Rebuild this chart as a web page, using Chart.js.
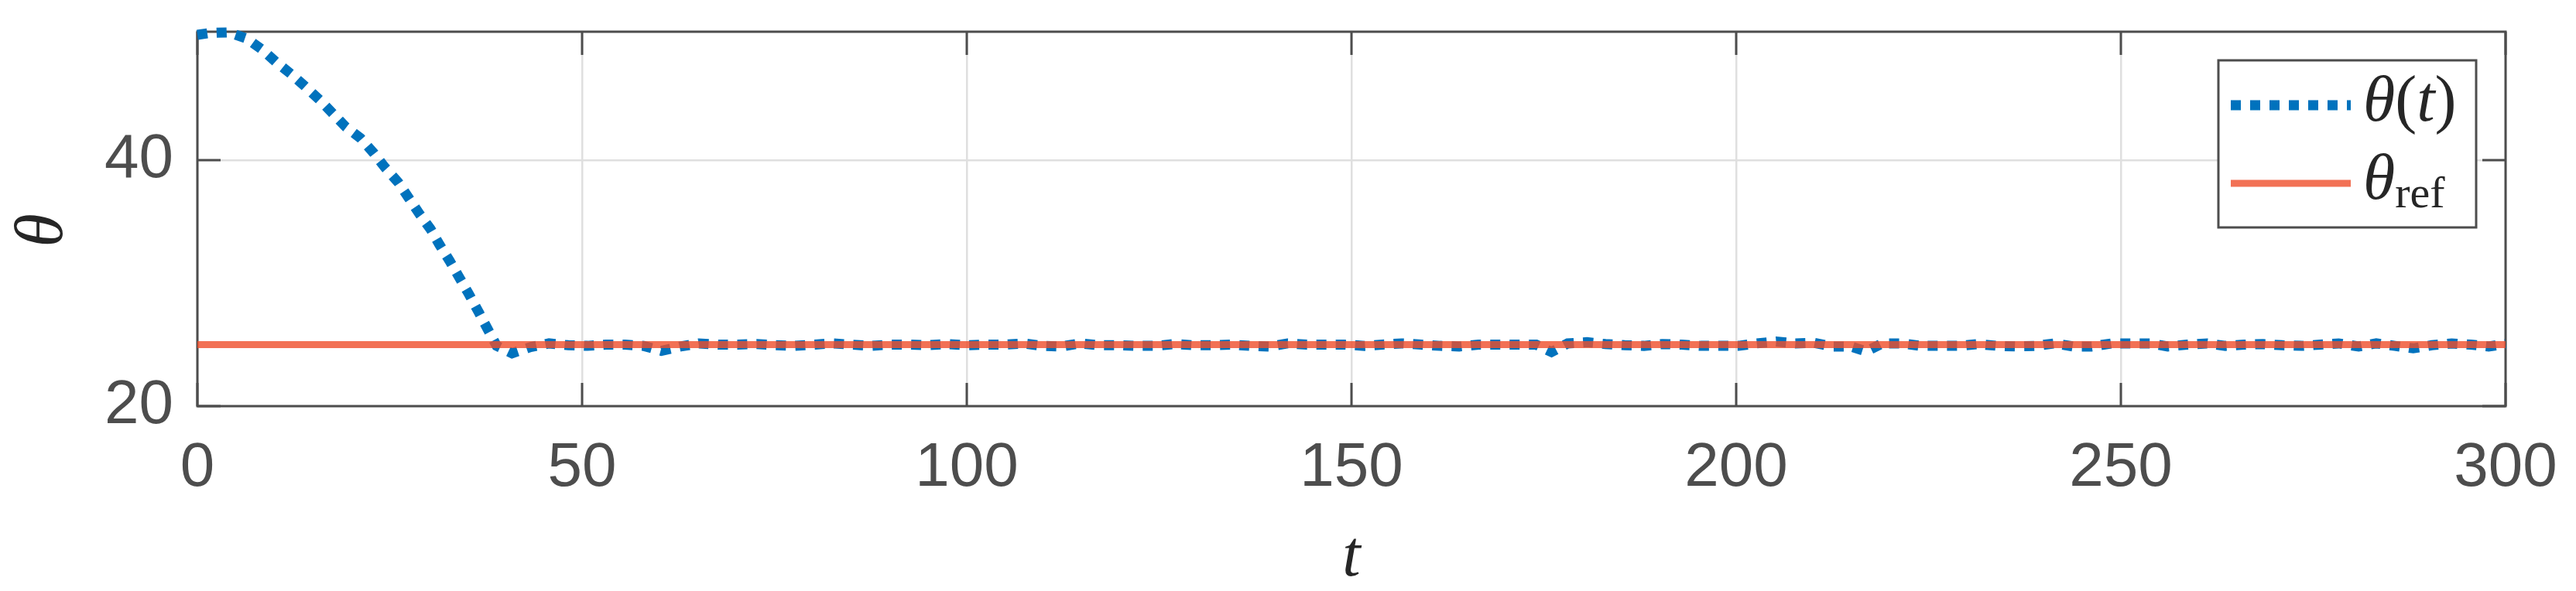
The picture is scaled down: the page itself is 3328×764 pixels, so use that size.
<!DOCTYPE html>
<html>
<head>
<meta charset="utf-8">
<script src="https://cdn.jsdelivr.net/npm/chart.js@4.4.1/dist/chart.umd.min.js"></script>
<style>
  html, body { margin: 0; padding: 0; background: #fff; }
  #wrap { width: 3328px; height: 764px; }
</style>
</head>
<body>
<div id="wrap"><canvas id="thetaChart" width="3328" height="764"></canvas></div>
<script>
// ---------- DATA ----------
const thetaT = [
    0, 1.7, 4.1, 6.4, 8.4, 10.2, 12.2, 14.0, 15.9, 17.6,
    19.3, 21.2, 22.9, 24.4, 26.1, 27.5, 28.9, 30.3, 31.5, 32.8,
    34.1, 35.3, 36.6, 37.7, 38.9, 40.9, 43.3, 45.7,
    48.2, 50.7, 53.1, 55.6, 58.0, 60.3, 62.8, 65.2, 67.7, 70.2,
    72.7, 75.1, 77.6, 80.1, 82.5, 85.1, 87.5, 90.0, 92.5, 94.9,
    97.5, 99.9, 102.4, 104.9, 107.4, 109.8, 112.3, 114.7, 117.2, 119.6,
    122.1, 124.6,
    127.0, 129.5, 131.9, 134.4, 136.8, 139.3, 141.7, 144.2, 146.7, 149.1,
    151.7, 154.0, 156.5, 159.1, 161.5, 164.0, 166.5, 168.9, 171.5, 174.0,
    176.0, 178.1, 180.6, 183.0, 185.5, 188.0, 190.4, 192.9, 195.4, 197.8,
    200.3, 202.6, 205.2, 207.7, 210.1, 212.5, 214.9,
    216.9, 219.0, 221.6, 224.0, 226.5, 229.0, 231.4, 234.0, 236.4, 238.9,
    241.4, 243.8, 246.2, 248.8, 251.3, 253.8, 256.1, 258.6, 261.2, 263.6,
    266.0, 268.5, 271.0, 273.5, 275.9, 278.3, 280.9, 283.2, 285.6, 288.0,
    290.4, 293.0, 295.5, 297.8, 300
];
const thetaVals = [
    50.2, 50.35, 50.4, 49.9, 49.0, 48.0, 47.0, 46.0, 44.9, 43.8,
    42.7, 41.8, 40.6, 39.4, 38.2, 36.9, 35.6, 34.4, 33.1, 31.8,
    30.4, 29.1, 27.6, 26.3, 24.9, 24.3, 24.8, 25.1,
    24.95, 24.9, 25.0, 25.0, 24.9, 24.5, 24.85, 25.1, 25.0, 25.0,
    25.05, 24.95, 24.9, 25.0, 25.1, 25.0, 24.9, 25.0, 25.0, 24.95,
    25.05, 24.95, 25.0, 25.0, 25.1, 24.9, 24.85, 25.1, 24.95, 24.95,
    24.9, 24.9,
    25.05, 24.95, 24.95, 25.0, 24.9, 24.85, 25.1, 25.0, 25.0, 25.0,
    24.9, 25.0, 25.1, 25.0, 24.9, 24.85, 25.0, 25.0, 25.0, 25.0,
    24.4, 25.1, 25.2, 25.05, 24.95, 24.9, 25.05, 25.0, 24.9, 24.9,
    24.9, 25.1, 25.25, 25.1, 25.15, 24.85, 24.85,
    24.45, 25.1, 25.1, 24.9, 24.9, 24.9, 25.05, 24.9, 24.85, 24.9,
    25.1, 24.85, 24.85, 25.1, 25.1, 25.1, 24.85, 25.0, 25.1, 24.9,
    25.0, 25.05, 24.95, 24.9, 25.0, 25.1, 24.85, 25.1, 24.9, 24.7,
    24.95, 25.1, 25.0, 24.85, 25.05
];
const refT = [0, 300];
const refVals = [25, 25];
const xTicks = [0, 50, 100, 150, 200, 250, 300];
const yTicks = [20, 40];

// ---------- STYLE ----------
const axisColor = '#4D4D4D';
const textColor = '#262626';
const blueColor = '#0072BD';
const redColor = 'rgba(239, 78, 43, 0.8)';

// ---------- PLUGINS ----------

// Box round the axes, with ticks pointing inwards
const axesBoxPlugin = {
    id: 'axesBox',
    beforeDatasetsDraw(chart) {
        const { ctx, chartArea: { left, right, top, bottom }, scales: { x, y } } = chart;
        const tickLen = 30;
        ctx.save();
        ctx.strokeStyle = axisColor;
        ctx.lineWidth = 3;
        ctx.beginPath();
        xTicks.forEach(v => {
            const px = x.getPixelForValue(v);
            ctx.moveTo(px, bottom); ctx.lineTo(px, bottom - tickLen);
            ctx.moveTo(px, top); ctx.lineTo(px, top + tickLen);
        });
        yTicks.forEach(v => {
            const py = y.getPixelForValue(v);
            ctx.moveTo(left, py); ctx.lineTo(left + tickLen, py);
            ctx.moveTo(right, py); ctx.lineTo(right - tickLen, py);
        });
        ctx.stroke();
        ctx.strokeRect(left, top, right - left, bottom - top);

        // y axis label, a bit below the middle as in the original
        ctx.translate(left - 198, (top + bottom) / 2 + 15);
        ctx.rotate(-Math.PI / 2);
        ctx.fillStyle = textColor;
        ctx.font = 'italic 88px "Liberation Serif"';
        ctx.textAlign = 'center';
        ctx.textBaseline = 'middle';
        ctx.fillText('θ', 0, 0);
        ctx.restore();
    }
};

// Legend with a dotted sample and a subscript
const thetaLegendPlugin = {
    id: 'thetaLegend',
    afterDraw(chart) {
        const { ctx, chartArea } = chart;
        const boxR = chartArea.right - 38;
        const boxL = boxR - 333;
        const boxT = chartArea.top + 37;
        const boxB = boxT + 216;
        const sampleL = boxL + 16, sampleR = boxL + 171;
        const textX = boxL + 187;

        ctx.save();
        ctx.fillStyle = '#fff';
        ctx.fillRect(boxL, boxT, boxR - boxL, boxB - boxT);
        ctx.strokeStyle = axisColor;
        ctx.lineWidth = 3;
        ctx.strokeRect(boxL, boxT, boxR - boxL, boxB - boxT);

        // samples
        ctx.lineCap = 'butt';
        ctx.strokeStyle = blueColor;
        ctx.lineWidth = 13;
        ctx.setLineDash([13, 12]);
        ctx.beginPath();
        ctx.moveTo(sampleL, boxT + 58); ctx.lineTo(sampleR, boxT + 58);
        ctx.stroke();
        ctx.setLineDash([]);
        ctx.strokeStyle = redColor;
        ctx.lineWidth = 9;
        ctx.beginPath();
        ctx.moveTo(sampleL, boxT + 159); ctx.lineTo(sampleR, boxT + 159);
        ctx.stroke();

        // labels
        ctx.fillStyle = textColor;
        ctx.textBaseline = 'alphabetic';
        const italic = 'italic 84px "Liberation Serif"';
        const upright = '84px "Liberation Serif"';
        let cx = textX;
        const parts = [['θ', italic], ['(', upright], ['t', italic], [')', upright]];
        parts.forEach(([txt, font]) => {
            ctx.font = font;
            ctx.fillText(txt, cx, boxT + 78);
            cx += ctx.measureText(txt).width;
        });
        ctx.font = italic;
        ctx.fillText('θ', textX, boxT + 179);
        const thW = ctx.measureText('θ').width;
        ctx.font = '58px "Liberation Serif"';
        ctx.fillText('ref', textX + thW, boxT + 190);
        ctx.restore();
    }
};

// drop the extra room Chart.js keeps for edge labels, the layout padding is enough
function noScalePadding(s) {
    s.paddingTop = 0;
    s.paddingBottom = 0;
    s.paddingLeft = 0;
    s.paddingRight = 0;
}

// ---------- CHART ----------
const ctx = document.getElementById('thetaChart').getContext('2d');
const thetaChart = new Chart(ctx, {
    type: 'line',
    data: {
        datasets: [
            {
                label: 'θ(t)',
                data: thetaT.map((t, i) => ({ x: t, y: thetaVals[i] })),
                borderColor: blueColor,
                borderWidth: 13,
                borderDash: [13, 12],
                borderCapStyle: 'butt',
                pointRadius: 0,
                tension: 0,
                clip: false,
                order: 2
            },
            {
                label: 'θref',
                data: refT.map((t, i) => ({ x: t, y: refVals[i] })),
                borderColor: redColor,
                borderWidth: 9,
                pointRadius: 0,
                tension: 0,
                order: 1
            }
        ]
    },
    options: {
        responsive: false,
        animation: false,
        devicePixelRatio: 1,
        layout: { padding: { top: 41, right: 91, left: 0, bottom: 0 } },
        plugins: {
            legend: { display: false },
            tooltip: { enabled: false }
        },
        scales: {
            x: {
                type: 'linear',
                min: 0,
                max: 300,
                afterBuildTicks: s => { s.ticks = xTicks.map(v => ({ value: v })); },
                afterFit: s => { s.height = 239; noScalePadding(s); },
                grid: { color: '#DFDFDF', lineWidth: 2.5, drawTicks: false },
                border: { display: false },
                ticks: {
                    padding: 41,
                    color: axisColor,
                    maxRotation: 0,
                    autoSkip: false,
                    font: { family: 'Liberation Sans', size: 80, lineHeight: 1 }
                },
                title: {
                    display: true,
                    text: 't',
                    color: textColor,
                    padding: 0,
                    font: { family: 'Liberation Serif', style: 'italic', size: 84, lineHeight: 1 }
                }
            },
            y: {
                type: 'linear',
                min: 20,
                max: 50.45,
                afterBuildTicks: s => { s.ticks = yTicks.map(v => ({ value: v })); },
                afterFit: s => { s.width = 255; noScalePadding(s); },
                grid: { color: '#DFDFDF', lineWidth: 2.5, drawTicks: false },
                border: { display: false },
                ticks: {
                    padding: 31,
                    color: axisColor,
                    font: { family: 'Liberation Sans', size: 80, lineHeight: 1 }
                }
            }
        }
    },
    plugins: [axesBoxPlugin, thetaLegendPlugin]
});
</script>
</body>
</html>
